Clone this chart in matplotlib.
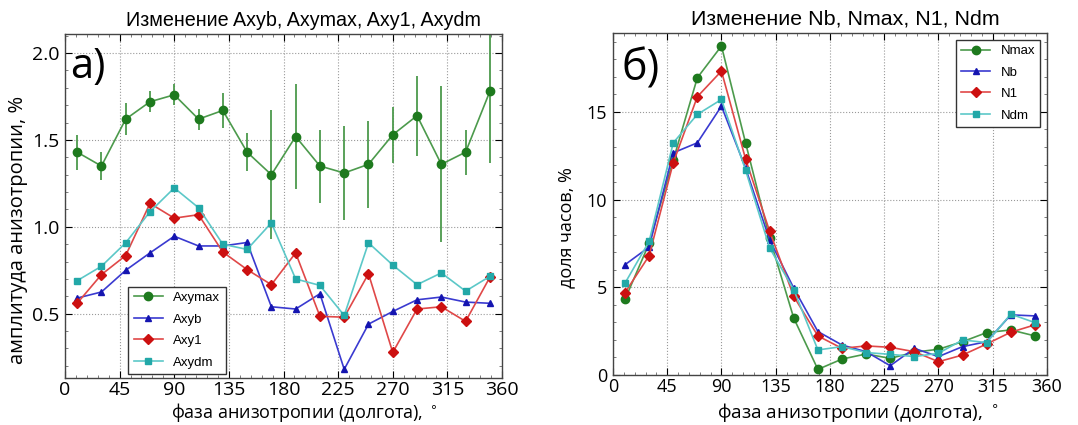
import matplotlib
matplotlib.use("Agg")
import matplotlib.pyplot as plt
from matplotlib.ticker import AutoMinorLocator
import numpy as np

# фаза анизотропии (центры бинов)
phase = [10, 30, 50, 70, 90, 110, 130, 150, 170, 190, 210, 230, 250, 270, 290, 310, 330, 350]

# а) амплитуды, %
axymax = [1.43, 1.35, 1.62, 1.72, 1.76, 1.62, 1.67, 1.43, 1.30, 1.52, 1.35, 1.31, 1.36, 1.53, 1.64, 1.36, 1.43, 1.78]
axymax_err = [0.10, 0.08, 0.09, 0.06, 0.06, 0.06, 0.10, 0.11, 0.37, 0.30, 0.21, 0.27, 0.25, 0.16, 0.23, 0.45, 0.13, 0.41]
axyb = [0.59, 0.625, 0.75, 0.85, 0.946, 0.89, 0.89, 0.91, 0.54, 0.527, 0.615, 0.18, 0.44, 0.513, 0.58, 0.596, 0.567, 0.56]
axy1 = [0.56, 0.725, 0.835, 1.135, 1.05, 1.07, 0.855, 0.754, 0.667, 0.85, 0.485, 0.48, 0.73, 0.277, 0.527, 0.54, 0.456, 0.71]
axydm = [0.69, 0.773, 0.908, 1.087, 1.224, 1.11, 0.90, 0.87, 1.023, 0.70, 0.663, 0.49, 0.908, 0.78, 0.667, 0.735, 0.63, 0.715]

# б) доля часов, %
nmax = [4.32, 7.5, 12.25, 16.95, 18.76, 13.24, 7.8, 3.24, 0.32, 0.91, 1.2, 0.95, 1.3, 1.47, 1.9, 2.42, 2.57, 2.23]
nb = [6.29, 7.3, 12.67, 13.24, 15.33, 11.8, 7.7, 4.95, 2.48, 1.71, 1.33, 0.53, 1.52, 1.05, 1.62, 1.9, 3.43, 3.37]
n1 = [4.7, 6.8, 12.1, 15.87, 17.33, 12.32, 8.19, 4.48, 2.23, 1.52, 1.66, 1.58, 1.33, 0.76, 1.14, 1.77, 2.44, 2.86]
ndm = [5.24, 7.62, 13.24, 14.86, 15.71, 11.68, 7.24, 4.86, 1.43, 1.62, 1.28, 1.18, 1.05, 1.24, 2.0, 1.85, 3.47, 2.99]

xticks = [0, 45, 90, 135, 180, 225, 270, 315, 360]

# цвета: линия светлее, маркер темнее
GREEN = ('#4c9a4c', '#1e7a1e')
BLUE = ('#3a3ad0', '#1515b0')
RED = ('#e04848', '#cc1010')
CYAN = ('#5cc8c8', '#22a8a8')

TICKFONT = 'Open Sans'
TEXTFONT = 'Liberation Sans'
XLAB = u'фаза анизотропии (долгота), $^\\circ$'


def serie(ax, x, y, col, marker, label, ms=6):
    ax.plot(x, y, '-', color=col[0], lw=1.2, marker=marker, ms=ms,
            mfc=col[1], mec=col[1], label=label)


def oformit(ax, title, tsize, tx, ylabel, ysize, ypos, xsize, xpos, tick):
    ax.set_title(title, fontsize=tsize, family=TEXTFONT, x=tx, pad=6)
    ax.set_xlabel(XLAB, fontsize=xsize, family=TICKFONT)
    ax.xaxis.set_label_coords(xpos[0], xpos[1])
    ax.set_ylabel(ylabel, fontsize=ysize, family=TICKFONT)
    ax.yaxis.set_label_coords(ypos[0], ypos[1])
    ax.set_xlim(0, 360)
    ax.set_xticks(xticks)
    ax.xaxis.set_minor_locator(AutoMinorLocator(5))
    ax.yaxis.set_minor_locator(AutoMinorLocator(5))
    ax.grid(True, which='major', linestyle=':', color='#999999', lw=0.8)
    ax.tick_params(direction='in', top=True, right=True, labelsize=tick, length=5, pad=4)
    ax.tick_params(which='minor', direction='in', top=True, right=True, length=2.5, color='#666666')
    ax.tick_params(axis='x', pad=2)
    for lab in ax.get_xticklabels() + ax.get_yticklabels():
        lab.set_family(TICKFONT)
    for s in ax.spines.values():
        s.set_color('#444444')
        s.set_linewidth(1.0)


fig = plt.figure(figsize=(10.78, 4.25), dpi=100)
ax1 = fig.add_axes([0.0603, 0.1106, 0.4054, 0.8094])
ax2 = fig.add_axes([0.5686, 0.1176, 0.4026, 0.8047])

# левая панель
ax1.errorbar(phase, axymax, yerr=axymax_err, fmt='none', ecolor='#4c9a4c', elinewidth=1.3, capsize=0)
serie(ax1, phase, axymax, GREEN, 'o', 'Axymax')
serie(ax1, phase, axyb, BLUE, '^', 'Axyb', ms=5)
serie(ax1, phase, axy1, RED, 'D', 'Axy1', ms=5)
serie(ax1, phase, axydm, CYAN, 's', 'Axydm', ms=5)
ax1.set_ylim(0.13, 2.11)
ax1.set_yticks([0.5, 1.0, 1.5, 2.0])
oformit(ax1, u'Изменение Axyb, Axymax, Axy1, Axydm', 14.2, 0.546,
        u'амплитуда анизотропии, %', 14.5, (-0.085, 0.43), 13, (0.548, -0.068), 14)
ax1.legend(loc='lower left', bbox_to_anchor=(0.13, -0.007),
           prop={'family': TEXTFONT, 'size': 9.5}, fancybox=False,
           edgecolor='#333333', framealpha=1, handlelength=2.2, labelspacing=0.7)
ax1.text(0.012, 0.965, u'а)', transform=ax1.transAxes, fontsize=30, family=TICKFONT, va='top')

# правая панель
serie(ax2, phase, nmax, GREEN, 'o', 'Nmax')
serie(ax2, phase, nb, BLUE, '^', 'Nb', ms=5)
serie(ax2, phase, n1, RED, 'D', 'N1', ms=5)
serie(ax2, phase, ndm, CYAN, 's', 'Ndm', ms=5)
ax2.set_ylim(0, 19.5)
ax2.set_yticks([0, 5, 10, 15])
oformit(ax2, u'Изменение Nb, Nmax, N1, Ndm', 15.4, 0.535,
        u'доля часов, %', 13, (-0.088, 0.43), 13.7, (0.565, -0.075), 13)
ax2.legend(loc='upper right', prop={'family': TEXTFONT, 'size': 9.5}, fancybox=False,
           edgecolor='#333333', framealpha=1, handlelength=2.2, labelspacing=0.7)
ax2.text(0.02, 0.96, u'б)', transform=ax2.transAxes, fontsize=31, family=TICKFONT, va='top')

fig.savefig('out.png', dpi=100)
